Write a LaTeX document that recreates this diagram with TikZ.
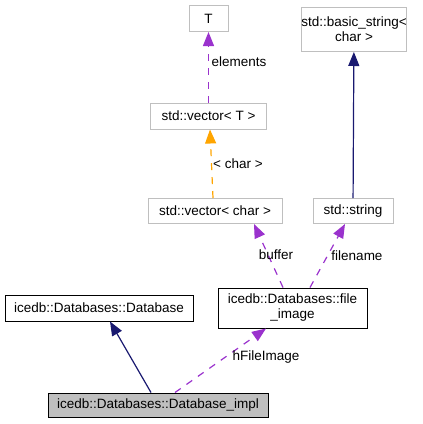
\documentclass[tikz,border=0pt]{standalone}
\usepackage{fontspec}
\setmainfont{Liberation Sans}
\usepackage{tikz}
\usetikzlibrary{arrows.meta,positioning}
\definecolor{inhcol}{HTML}{191970}
\definecolor{usecol}{HTML}{9A32CD}
\definecolor{tplcol}{HTML}{FFA500}
\definecolor{boxgray}{HTML}{BFBFBF}
\tikzset{
  cls/.style={
    shape = rectangle,
    draw = boxgray,
    line width = 1pt,
    inner sep = 0pt,
    align = center,
    font = \fontsize{13.5}{15}\selectfont
  },
  defcls/.style={
    cls,
    draw = black
  },
  curcls/.style={
    defcls,
    fill = boxgray
  },
  inherit/.style={
    draw = inhcol,
    line width = 1.2pt,
    -{Triangle[length=14pt,width=11pt]}
  },
  usage/.style={
    draw = usecol,
    line width = 1.2pt,
    dash pattern = on 7pt off 7pt,
    -{Triangle[length=14pt,width=11pt,fill=usecol]}
  },
  tmpl/.style={
    usage,
    draw = tplcol,
    -{Triangle[length=14pt,width=11pt,fill=tplcol]}
  },
  elabel/.style={
    font = \fontsize{13.5}{15}\selectfont,
    inner sep = 1pt
  }
}

\begin{document}
\begin{tikzpicture}[x=1pt,y=-1pt]
    \useasboundingbox (0,0) rectangle (423,424);
    % classes
    \node[cls, minimum width=39pt, minimum height=26pt] (T) at (208.5,18.5) {T};
    \node[cls, minimum width=116pt, minimum height=26pt] (vecT) at (208.5,116) {std::vector< T >};
    \node[cls, minimum width=134pt, minimum height=25pt] (vecChar) at (215,211) {std::vector< char >};
    \node[cls, minimum width=98pt, minimum height=44pt] (basicStr) at (354,29.5) {std::basic\_string<\\char >};
    \node[cls, minimum width=80pt, minimum height=25pt] (str) at (353,211) {std::string};
    \node[defcls, minimum width=149pt, minimum height=40pt] (fileImg) at (292.5,308) {icedb::Databases::file\\\_image};
    \node[defcls, minimum width=188pt, minimum height=26pt] (db) at (99,308) {icedb::Databases::Database};
    \node[curcls, minimum width=220pt, minimum height=24pt] (dbImpl) at (158,405) {icedb::Databases::Database\_impl};
    % edges
    \draw[inherit] (dbImpl.north -| 151,0) -- (db.south -| 110,0);
    \draw[usage] (dbImpl.north -| 175,0) -- (fileImg.south -| 266,0);
    \draw[usage] (fileImg.north -| 283,0) -- (vecChar.south -| 254,0);
    \draw[usage] (fileImg.north -| 310,0) -- (str.south -| 345,0);
    \draw[inherit] (str) -- (basicStr);
    \draw[tmpl] (vecChar.north -| 213,0) -- (vecT.south -| 210,0);
    \draw[usage] (vecT) -- (T);
    % labels
    \node[elabel] (lblElem) at (239,62) {elements};
    \node[elabel] (lblChar) at (238,164) {< char >};
    \node[elabel] (lblBuf) at (276,255) {buffer};
    \node[elabel] (lblName) at (357,256) {filename};
    \node[elabel] (lblImg) at (266,357) {hFileImage};
\end{tikzpicture}
\end{document}
